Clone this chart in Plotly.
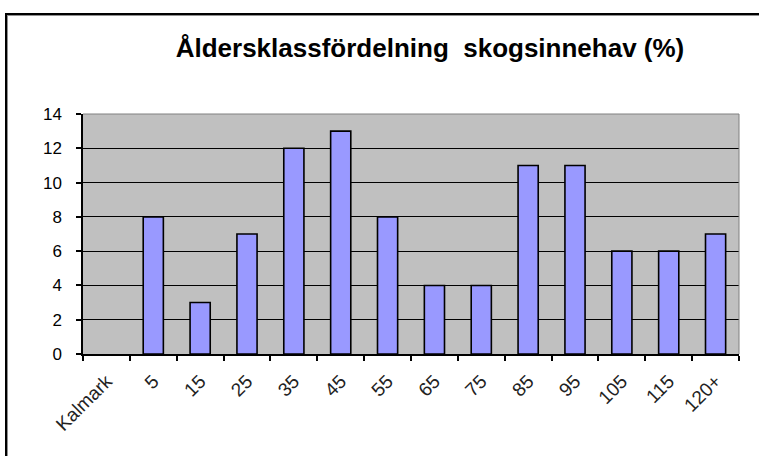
import plotly.graph_objects as go

categories = ["Kalmark", "5", "15", "25", "35", "45", "55", "65", "75", "85", "95", "105", "115", "120+"]
values = [0, 8, 3, 7, 12, 13, 8, 4, 4, 11, 11, 6, 6, 7]
y_ticks = [0, 2, 4, 6, 8, 10, 12, 14]
title_text = "Åldersklassfördelning  skogsinnehav (%)"

W, H = 759, 456
L, R, T, B = 83, 20, 114, 102
pw, ph = W - L - R, H - T - B

def px(x):
    return (x - L) / pw

def py(y):
    return (H - B - y) / ph

fig = go.Figure(go.Bar(
    x=categories, y=values,
    marker=dict(color="#9999FF",
                line=dict(color="black", width=[0 if v == 0 else 1.6 for v in values])),
))

fig.update_layout(
    width=W, height=H,
    margin=dict(l=L, r=R, t=T, b=B, autoexpand=False),
    paper_bgcolor="white",
    plot_bgcolor="#C0C0C0",
    bargap=0.57,
    showlegend=False,
    title=dict(text="<b>" + title_text + "</b>", x=430 / W, xanchor="center",
               y=1 - 48 / H, yanchor="middle", yref="container",
               font=dict(family="Liberation Sans, Arial", size=26, color="black")),
    font=dict(family="Liberation Sans, Arial", color="black"),
    xaxis=dict(type="category", tickson="boundaries", ticks="outside", ticklen=5,
               tickcolor="black", tickwidth=1.5, showline=True, linecolor="black", linewidth=1.5,
               tickangle=-45, tickfont=dict(size=19, color="#222222"), showgrid=False,
               ticklabelstandoff=7, automargin=False),
    yaxis=dict(range=[0, 14], tickvals=y_ticks, ticks="outside", ticklen=5, tickcolor="black",
               tickwidth=1.5, showline=True, linecolor="black", linewidth=1.5, showgrid=True,
               gridcolor="black", gridwidth=1.2, tickfont=dict(size=17, color="black"),
               zeroline=False, ticklabelstandoff=11, automargin=False),
    shapes=[
        dict(type="line", xref="paper", yref="paper", x0=1, x1=1, y0=0, y1=1,
             line=dict(color="#808080", width=1)),
        dict(type="line", xref="paper", yref="paper", x0=0, x1=1, y0=1, y1=1,
             line=dict(color="#808080", width=1)),
        dict(type="line", xref="paper", yref="paper", x0=px(6), x1=px(W + 10), y0=py(14), y1=py(14),
             line=dict(color="black", width=2)),
        dict(type="line", xref="paper", yref="paper", x0=px(7), x1=px(W + 10), y0=py(15.5), y1=py(15.5),
             line=dict(color="#909090", width=1)),
        dict(type="line", xref="paper", yref="paper", x0=px(6), x1=px(6), y0=py(13), y1=py(H + 10),
             line=dict(color="black", width=2)),
        dict(type="line", xref="paper", yref="paper", x0=px(7.5), x1=px(7.5), y0=py(15), y1=py(H + 10),
             line=dict(color="#909090", width=1)),
    ],
)

fig.write_html("out.html", config={"displayModeBar": False},
               post_script="document.body.style.margin='0';")
